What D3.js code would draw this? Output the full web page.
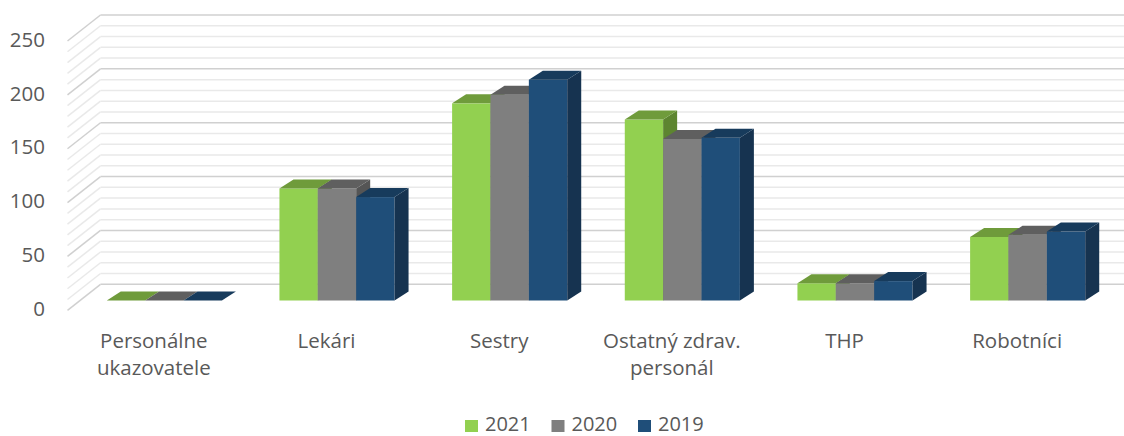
<!DOCTYPE html>
<html>
<head>
<meta charset="utf-8">
<script src="https://cdn.jsdelivr.net/npm/d3@7"></script>
<style>
  html, body { margin: 0; padding: 0; background: #fff; }
  svg { display: block; font-family: "Open Sans", sans-serif; }
</style>
</head>
<body>
<svg id="chart" width="1124" height="436"></svg>
<script>
// data
const categories = ['Personálne\nukazovatele', 'Lekári', 'Sestry', 'Ostatný zdrav.\npersonál', 'THP', 'Robotníci'];
const seriesNames = ['2021', '2020', '2019'];
const values2021 = [0, 104, 183, 168, 16, 59];
const values2020 = [0, 104, 191, 150, 16, 61];
const values2019 = [0, 96, 205, 151, 18, 64];
const yTicks = [0, 50, 100, 150, 200, 250];

const seriesValues = [values2021, values2020, values2019];
const colors = {
  '2021': { front: '#92d050', top: '#6f9b3b', side: '#5d8530' },
  '2020': { front: '#7f7f7f', top: '#5f5f5f', side: '#555555' },
  '2019': { front: '#1f4e79', top: '#173b5c', side: '#163350' }
};

const svg = d3.select('#chart');
const width = 1124;

// 3d geometry: front plane, bar plane and back wall
const wallDx = 33, wallDy = -26;      // front plane -> back wall
const barDx = 10.5, barDy = -9.8;     // front plane -> bar front face
const depthDx = 14, depthDy = -9;     // bar front face -> bar back face

const x = d3.scaleBand().domain(categories).range([67.5, 1103.5]).padding(0);
const y = d3.scaleLinear().domain([0, 250]).range([310.3, 41]);

const barW = x.bandwidth() / 4.5;
const xs = d3.scaleBand().domain(seriesNames).range([0, barW * 3]);
const groupOffset = (x.bandwidth() - barW * 3) / 2;

// gridlines (minor every 10, major every 50)
const gridVals = d3.range(0, 251, 10);
const grid = svg.append('g');
gridVals.forEach(v => {
  const major = v % 50 === 0;
  const stroke = major ? '#d0d0d0' : '#e9e9e9';
  const yb = y(v) + wallDy;
  grid.append('line')
    .attr('x1', x.range()[0] + wallDx).attr('x2', width)
    .attr('y1', yb).attr('y2', yb)
    .attr('stroke', stroke).attr('stroke-width', 1.5);
  grid.append('line')
    .attr('x1', x.range()[0]).attr('y1', y(v))
    .attr('x2', x.range()[0] + wallDx).attr('y2', yb)
    .attr('stroke', stroke).attr('stroke-width', 1.5);
});

// y tick labels
svg.append('g').selectAll('text')
  .data(yTicks)
  .join('text')
  .attr('x', 45)
  .attr('y', d => y(d) - 1.5)
  .attr('dy', '0.35em')
  .attr('text-anchor', 'end')
  .attr('font-size', 20.5)
  .attr('fill', '#595959')
  .text(d => d);

// bars
const bars = svg.append('g');
categories.forEach((cat, ci) => {
  seriesNames.forEach((s, si) => {
    const v = seriesValues[si][ci];
    const x0 = x(cat) + groupOffset + xs(s) + barDx;
    const x1 = x0 + barW;
    const yb = y(0) + barDy;
    const yt = y(v) + barDy;
    const c = colors[s];
    const g = bars.append('g');
    if (v > 0) {
      g.append('rect')
        .attr('x', x0).attr('y', yt)
        .attr('width', barW).attr('height', yb - yt)
        .attr('fill', c.front);
      g.append('path')
        .attr('d', `M${x1},${yt}L${x1 + depthDx},${yt + depthDy}L${x1 + depthDx},${yb + depthDy}L${x1},${yb}Z`)
        .attr('fill', c.side);
    }
    g.append('path')
      .attr('d', `M${x0},${yt}L${x0 + depthDx},${yt + depthDy}L${x1 + depthDx},${yt + depthDy}L${x1},${yt}Z`)
      .attr('fill', c.top);
  });
});

// category labels
const labels = svg.append('g');
categories.forEach(cat => {
  const t = labels.append('text')
    .attr('x', x(cat) + x.bandwidth() / 2)
    .attr('y', 348)
    .attr('text-anchor', 'middle')
    .attr('font-size', 20.5)
    .attr('fill', '#595959');
  cat.split('\n').forEach((line, i) => {
    t.append('tspan')
      .attr('x', x(cat) + x.bandwidth() / 2)
      .attr('dy', i === 0 ? 0 : 27)
      .text(line);
  });
});

// legend
const legendX = [465, 551.5, 638];
const legend = svg.append('g');
seriesNames.forEach((s, i) => {
  legend.append('rect')
    .attr('x', legendX[i]).attr('y', 420)
    .attr('width', 13).attr('height', 12)
    .attr('fill', colors[s].front);
  legend.append('text')
    .attr('x', legendX[i] + 20).attr('y', 431)
    .attr('font-size', 20)
    .attr('fill', '#595959')
    .text(s);
});
</script>
</body>
</html>
